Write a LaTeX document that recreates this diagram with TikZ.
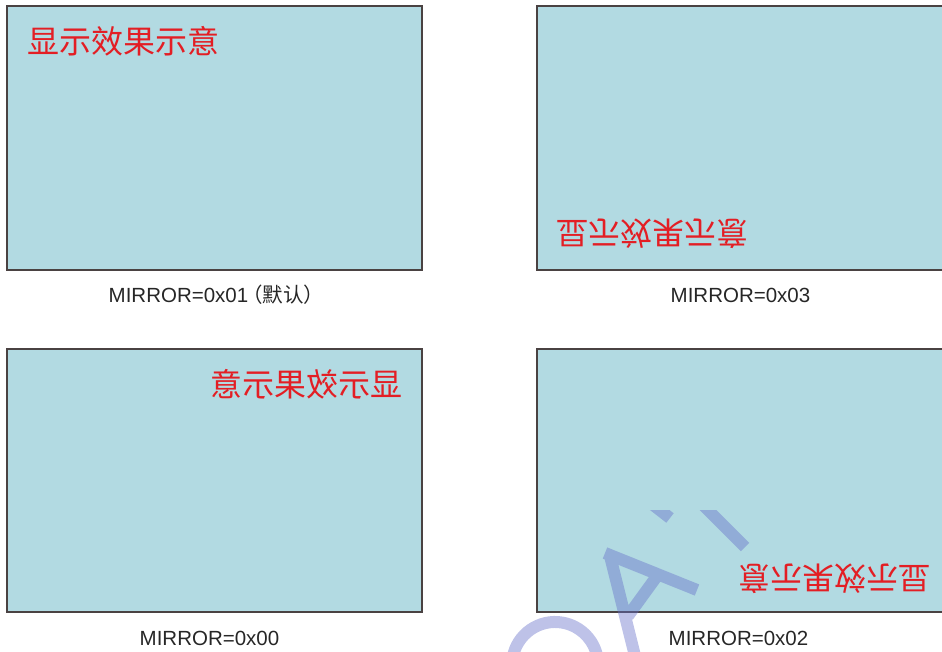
\documentclass[tikz,border=0pt]{standalone}
\usepackage{fontspec}
\setmainfont{Liberation Sans}
\newfontfamily\cjk{Noto Sans CJK SC}
\definecolor{panelfill}{HTML}{B2DAE2}
\definecolor{panelline}{HTML}{4A4242}
\definecolor{redtxt}{HTML}{E31E24}
\definecolor{wm}{RGB}{100,110,200}
\begin{document}
\begin{tikzpicture}[x=1pt,y=-1pt,
  panel/.style={draw=panelline, line width=1.8pt, fill=panelfill},
  demo/.style={text=redtxt, font=\cjk\fontsize{32}{32}\selectfont, inner sep=0pt},
  caption/.style={font=\fontsize{20.5}{24}\selectfont, inner sep=0pt, anchor=base west, text=black!85},
  wmark/.style={draw=wm, draw opacity=0.42, line width=12pt}]
\useasboundingbox (0,0) rectangle (942,652);
% panels
\path[panel] (7,6) rectangle (422,270);
\path[panel] (537,6) rectangle (960,270);
\path[panel] (7,349) rectangle (422,612);
\path[panel] (537,349) rectangle (960,612);
% demo texts
\node[demo] (tl) at (123.5,41) {显示效果示意};
\node[demo] (tr) at (652.5,234) {\scalebox{1}[-1]{显示效果示意}};
\node[demo] (bl) at (306,384) {\reflectbox{显示效果示意}};
\node[demo] (br) at (834,578.5) {\rotatebox{180}{显示效果示意}};
% captions
\node[caption] (c1) at (108.5,302) {MIRROR=0x01\kern-0.3em{\cjk（默认）}};
\node[caption] (c3) at (670.5,302) {MIRROR=0x03};
\node[caption] (c0) at (139.5,645) {MIRROR=0x00};
\node[caption] (c2) at (668.5,645) {MIRROR=0x02};
% watermark fragments
\begin{scope}
  \clip (0,510) rectangle (942,652);
  \draw[wmark] (652,504) -- (670,518)
               (700,502) -- (745,547)
               (605,553) -- (697,590)
               (610,556) -- (636,660)
               (657,576) -- (628,616);
  \draw[wmark] (512.7,657.5) arc[start angle=190, end angle=350, radius=43];
\end{scope}
\end{tikzpicture}
\end{document}
